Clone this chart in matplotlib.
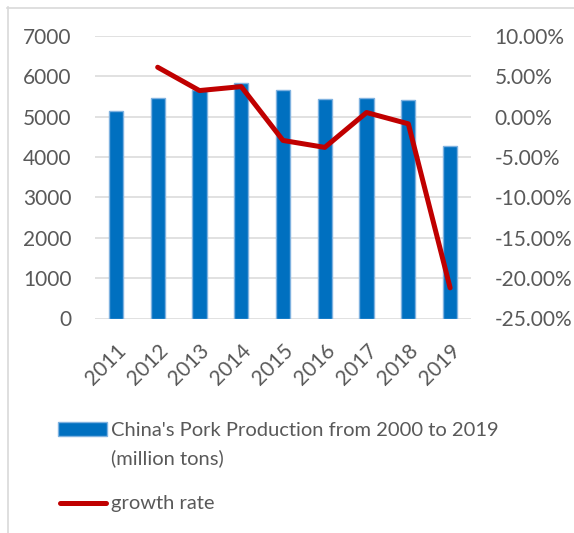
import matplotlib.pyplot as plt
import numpy as np
from matplotlib.patches import Rectangle
from matplotlib.lines import Line2D
from matplotlib.ticker import FuncFormatter

plt.rcParams['font.family'] = ['Lato', 'DejaVu Sans']

years = ['2011', '2012', '2013', '2014', '2015', '2016', '2017', '2018', '2019']
production = [5148, 5453, 5651, 5834, 5660, 5445, 5470, 5420, 4265]
growth = [np.nan, 6.13, 3.24, 3.73, -2.94, -3.80, 0.52, -0.88, -21.2]
bar_label = "China's Pork Production from 2000 to 2019\n(million tons)"
line_label = 'growth rate'

txt = '#595959'
W, H = 574, 533
fig = plt.figure(figsize=(W / 100, H / 100), dpi=100)
ax = fig.add_axes([95 / W, 1 - 318.5 / H, 376 / W, 282.5 / H])
ax2 = ax.twinx()

x = np.arange(len(years))
ax.bar(x, production, width=0.34, color='#0070C0', edgecolor='#7FB2E0',
       linewidth=1.0, zorder=2)
ax.set_xlim(-0.5, len(years) - 0.5)
ax.set_ylim(0, 7000)
ax.set_yticks(range(0, 7001, 1000))
ax.grid(axis='y', color='#D9D9D9', linewidth=1.1, zorder=0)
ax.set_axisbelow(True)
ax.set_xticks(x)
ax.set_xticklabels(years, rotation=45, ha='right', va='top',
                   rotation_mode='anchor')
ax.tick_params(axis='x', length=0, pad=16, labelsize=15, colors=txt)
ax.tick_params(axis='y', length=0, pad=17, labelsize=15, colors=txt)


def pct(v, p):
    return '%.2f%%' % (round(v * 100, 6) + 0.0)


ax2.plot(x, np.array(growth) / 100, color='#C00000', linewidth=3.6,
         solid_capstyle='round', solid_joinstyle='round', zorder=3)
ax2.set_ylim(-0.25, 0.10)
ax2.set_yticks(np.arange(-0.25, 0.1001, 0.05))
ax2.yaxis.set_major_formatter(FuncFormatter(pct))
ax2.tick_params(axis='y', length=0, pad=17, labelsize=15, colors=txt)

for a in (ax, ax2):
    for s in a.spines.values():
        s.set_visible(False)

# outer chart border
fig.add_artist(Line2D([7.5 / W, 7.5 / W], [0, 1 - 7 / H], color='#D9D9D9',
                      linewidth=1.2, transform=fig.transFigure))
fig.add_artist(Line2D([7 / W, 1], [1 - 7.5 / H, 1 - 7.5 / H], color='#D9D9D9',
                      linewidth=1.2, transform=fig.transFigure))

# legend
fig.add_artist(Rectangle((58 / W, 1 - 436 / H), 49 / W, 14 / H,
                         facecolor='#0070C0', edgecolor='#7FB2E0', linewidth=1.0,
                         transform=fig.transFigure))
for i, line in enumerate(bar_label.split('\n')):
    fig.text(111 / W, 1 - (430 + 28 * i) / H, line, color=txt, fontsize=14.5,
             va='center', ha='left')
fig.add_artist(Line2D([60 / W, 106 / W], [1 - 503 / H, 1 - 503 / H],
                      color='#C00000', linewidth=3.6, solid_capstyle='round',
                      transform=fig.transFigure))
fig.text(111 / W, 1 - 503 / H, line_label, color=txt, fontsize=14.5,
         va='center', ha='left')

fig.savefig('out.png', dpi=100)
